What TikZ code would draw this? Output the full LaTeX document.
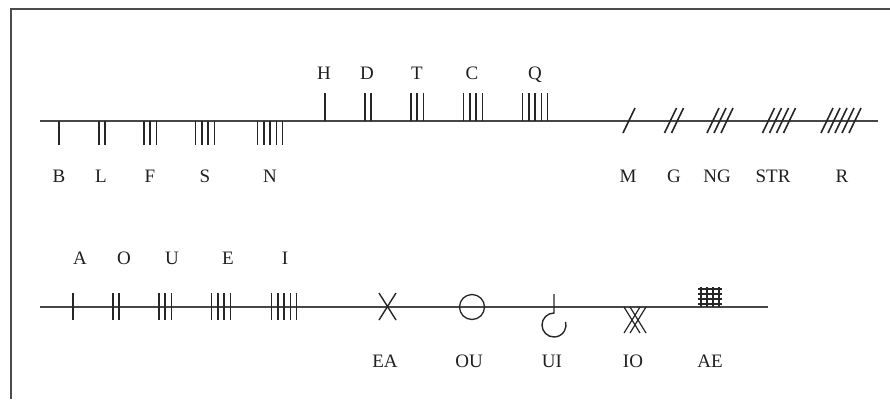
\documentclass[tikz,border=0pt]{standalone}
\usepackage{fontspec}
\setmainfont{Liberation Serif}
\begin{document}
\begin{tikzpicture}[x=1pt,y=-1pt,
  frame/.style={draw=black!70,line width=1.4pt},
  stem/.style={draw=black!72,line width=1.8pt},
  tick/.style={draw=black!85,line width=1.6pt},
  lbl/.style={font=\fontsize{19}{22}\selectfont,text=black!88,inner sep=0pt,anchor=base}]
\useasboundingbox (0,0) rectangle (890,399);
% outer frame (top and left edges)
\draw[frame] (11,399) -- (11,9) -- (890,9);

% n parallel strokes centred on cx, from y1 to y2
\newcommand\oghamticks[4]{%
  \pgfmathsetmacro\tkoff{(#2+1)/2}%
  \foreach \i in {1,...,#2}{%
    \draw[tick] ({#1+(\i-\tkoff)*6.3},#3) -- ({#1+(\i-\tkoff)*6.3},#4);}}
% n slanted strokes crossing the upper stem
\newcommand\oghamslash[2]{%
  \pgfmathsetmacro\tkoff{(#2+1)/2}%
  \foreach \i in {1,...,#2}{%
    \draw[tick] ({#1+(\i-\tkoff)*7-6},133) -- ({#1+(\i-\tkoff)*7+6},108);}}

% ---------- upper stem: consonants ----------
\coordinate (s1) at (40,121);
\coordinate (s2) at (878,121);
\draw[stem] (s1) -- (s2);

\oghamticks{59}{1}{121}{145}
\oghamticks{102}{2}{121}{145}
\oghamticks{150}{3}{121}{145}
\oghamticks{205}{4}{121}{145}
\oghamticks{270}{5}{121}{145}

\oghamticks{325}{1}{93}{121}
\oghamticks{368}{2}{93}{121}
\oghamticks{417}{3}{93}{121}
\oghamticks{473}{4}{93}{121}
\oghamticks{535}{5}{93}{121}

\oghamslash{629}{1}
\oghamslash{674}{2}
\oghamslash{720}{3}
\oghamslash{779}{4}
\oghamslash{841}{5}

\node[lbl] (lB) at (59,182) {B};
\node[lbl] (lL) at (101,182) {L};
\node[lbl] (lF) at (150,182) {F};
\node[lbl] (lS) at (205,182) {S};
\node[lbl] (lN) at (270,182) {N};

\node[lbl] (lH) at (324,79) {H};
\node[lbl] (lD) at (367,79) {D};
\node[lbl] (lT) at (417,79) {T};
\node[lbl] (lC) at (472,79) {C};
\node[lbl] (lQ) at (535,79) {Q};

\node[lbl] (lM) at (628,182) {M};
\node[lbl] (lG) at (674,182) {G};
\node[lbl] (lNG) at (717,182) {NG};
\node[lbl] (lSTR) at (773,182) {STR};
\node[lbl] (lR) at (842,182) {R};

% ---------- lower stem: vowels and forfeda ----------
\coordinate (v1) at (40,307);
\coordinate (v2) at (768,307);
\draw[stem] (v1) -- (v2);

\oghamticks{73}{1}{293}{320}
\oghamticks{116}{2}{293}{320}
\oghamticks{165}{3}{293}{320}
\oghamticks{221}{4}{293}{320}
\oghamticks{284}{5}{293}{320}

\node[lbl] (lA) at (80,264) {A};
\node[lbl] (lO) at (124,264) {O};
\node[lbl] (lU) at (172,264) {U};
\node[lbl] (lE) at (228,264) {E};
\node[lbl] (lI) at (285,264) {I};

% EA: cross
\draw[tick,line width=1.4pt] (379,293) -- (396,320) (396,293) -- (379,320);
% OU: circle
\draw[tick,line width=1.3pt] (472,307) circle (12.5);
% UI: stroke ending in an open hook below the stem
\draw[tick,line width=1.4pt] (554,294) -- (554,313)
  arc[start angle=270,end angle=-15,radius=12];
% IO: doubled cross
\draw[tick,line width=1.2pt]
  (624,307) -- (640,333) (630,307) -- (646,333)
  (640,307) -- (624,333) (646,307) -- (630,333);
% AE: grid
\foreach \gx in {701,707,713,719}
  \draw[tick,line width=1.5pt] (\gx,287) -- (\gx,307);
\foreach \gy in {289,294,299,304}
  \draw[tick,line width=1.5pt] (698,\gy) -- (722,\gy);

\node[lbl] (lEA) at (385,367) {EA};
\node[lbl] (lOU) at (469,367) {OU};
\node[lbl] (lUI) at (552,367) {UI};
\node[lbl] (lIO) at (633,367) {IO};
\node[lbl] (lAE) at (710,367) {AE};
\end{tikzpicture}
\end{document}
